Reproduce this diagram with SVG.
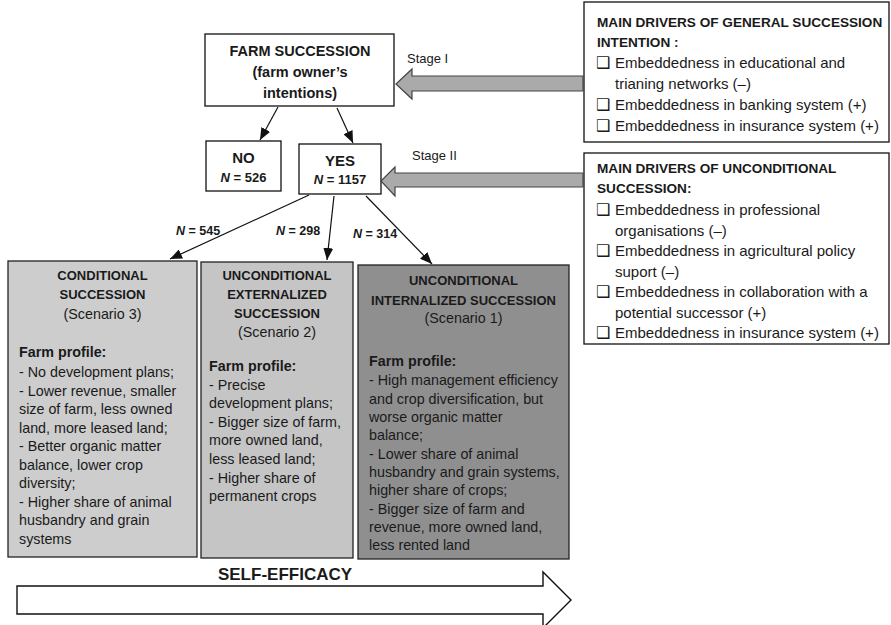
<svg xmlns="http://www.w3.org/2000/svg" width="891" height="625" viewBox="0 0 891 625">
<defs>
<marker id="ah" markerUnits="userSpaceOnUse" markerWidth="12" markerHeight="10" viewBox="0 0 12 10" refX="12" refY="5" orient="auto">
<path d="M0,0 L12,5 L0,10 Z" fill="#111"/>
</marker>
<style>
text{font-family:"Liberation Sans",Arial,sans-serif;fill:#1a1a1a}
.box{fill:#fff;stroke:#111;stroke-width:1.3}
.b{font-weight:bold}
.h14{font-size:14.5px;font-weight:bold}
.hd{font-size:13.6px;font-weight:bold}
.bd{font-size:15px}
.sb{font-size:13px;font-weight:bold}
.sr{font-size:14.3px}
.c{text-anchor:middle}
.chk{font-family:"DejaVu Sans",sans-serif;font-size:16px}
.stage{fill:#aaaaaa;stroke:#444;stroke-width:1.2}
.con{stroke:#111;stroke-width:1.2;fill:none;marker-end:url(#ah)}
.nl{font-size:12.5px;font-weight:bold}
</style>
</defs>

<g id="farm-succession">
<rect class="box" x="205" y="34" width="189" height="72"/>
<text class="h14 c" x="300" y="56">FARM SUCCESSION</text>
<text class="h14 c" x="300" y="77">(farm owner’s</text>
<text class="h14 c" x="300" y="98">intentions)</text>
</g>

<g id="no">
<rect class="box" x="206" y="141" width="75" height="50"/>
<text class="c b" x="243.5" y="163" font-size="15">NO</text>
<text class="c b" x="243.5" y="182" font-size="13"><tspan font-style="italic">N</tspan> = 526</text>
</g>

<g id="yes">
<rect class="box" x="299" y="144" width="82" height="50"/>
<text class="c b" x="340" y="166" font-size="15">YES</text>
<text class="c b" x="340" y="184" font-size="13"><tspan font-style="italic">N</tspan> = 1157</text>
</g>

<g id="drivers-general">
<rect class="box" x="584" y="2" width="305" height="140"/>
<text class="hd" x="597" y="27">MAIN DRIVERS OF GENERAL SUCCESSION</text>
<text class="hd" x="597" y="47">INTENTION :</text>
<text class="chk" x="596" y="68">❑</text>
<text class="bd" x="615" y="68">Embeddedness in educational and</text>
<text class="bd" x="615" y="89">trianing networks (–)</text>
<text class="chk" x="596" y="110">❑</text>
<text class="bd" x="615" y="110">Embeddedness in banking system (+)</text>
<text class="chk" x="596" y="131">❑</text>
<text class="bd" x="615" y="131">Embeddedness in insurance system (+)</text>
</g>

<g id="drivers-unconditional">
<rect class="box" x="584" y="153" width="305" height="191"/>
<text class="hd" x="597" y="173">MAIN DRIVERS OF UNCONDITIONAL</text>
<text class="hd" x="597" y="193">SUCCESSION:</text>
<text class="chk" x="596" y="215">❑</text>
<text class="bd" x="615" y="215">Embeddedness in professional</text>
<text class="bd" x="615" y="236">organisations (–)</text>
<text class="chk" x="596" y="256">❑</text>
<text class="bd" x="615" y="256">Embeddedness in agricultural policy</text>
<text class="bd" x="615" y="277">suport (–)</text>
<text class="chk" x="596" y="297">❑</text>
<text class="bd" x="615" y="297">Embeddedness in collaboration with a</text>
<text class="bd" x="615" y="318">potential successor (+)</text>
<text class="chk" x="596" y="338">❑</text>
<text class="bd" x="615" y="338">Embeddedness in insurance system (+)</text>
</g>

<g id="stage-arrows">
<polygon class="stage" points="583,76 412,76 412,69 396,84 412,99 412,91 583,91"/>
<text x="407" y="63" font-size="13">Stage I</text>
<polygon class="stage" points="583,173 395,173 395,167 381,181 395,196 395,187 583,187"/>
<text x="412" y="160" font-size="13">Stage II</text>
</g>

<g id="scenario-3">
<rect x="8" y="261" width="189" height="296" fill="#cdcdcd" stroke="#222" stroke-width="1.3"/>
<text class="sb c" x="102.5" y="280">CONDITIONAL</text>
<text class="sb c" x="102.5" y="299">SUCCESSION</text>
<text class="sr c" x="102.5" y="319">(Scenario 3)</text>
<text class="sr b" x="19" y="357">Farm profile:</text>
<text class="sr" x="19" y="377">- No development plans;</text>
<text class="sr" x="19" y="396">- Lower revenue, smaller</text>
<text class="sr" x="19" y="414">size of farm, less owned</text>
<text class="sr" x="19" y="433">land, more leased land;</text>
<text class="sr" x="19" y="451">- Better organic matter</text>
<text class="sr" x="19" y="470">balance, lower crop</text>
<text class="sr" x="19" y="488">diversity;</text>
<text class="sr" x="19" y="507">- Higher share of animal</text>
<text class="sr" x="19" y="525">husbandry and grain</text>
<text class="sr" x="19" y="544">systems</text>
</g>

<g id="scenario-2">
<rect x="201" y="262" width="152" height="296" fill="#c5c5c5" stroke="#222" stroke-width="1.3"/>
<text class="sb c" x="277" y="280">UNCONDITIONAL</text>
<text class="sb c" x="277" y="299">EXTERNALIZED</text>
<text class="sb c" x="277" y="318">SUCCESSION</text>
<text class="sr c" x="277" y="337">(Scenario 2)</text>
<text class="sr b" x="209" y="371">Farm profile:</text>
<text class="sr" x="209" y="390">- Precise</text>
<text class="sr" x="209" y="408">development plans;</text>
<text class="sr" x="209" y="427">- Bigger size of farm,</text>
<text class="sr" x="209" y="445">more owned land,</text>
<text class="sr" x="209" y="464">less leased land;</text>
<text class="sr" x="209" y="483">- Higher share of</text>
<text class="sr" x="209" y="501">permanent crops</text>
</g>

<g id="scenario-1">
<rect x="358" y="265" width="211" height="294" fill="#8f8f8f" stroke="#222" stroke-width="1.3"/>
<text class="sb c" x="463.5" y="285">UNCONDITIONAL</text>
<text class="sb c" x="463.5" y="305">INTERNALIZED SUCCESSION</text>
<text class="sr c" x="463.5" y="323">(Scenario 1)</text>
<text class="sr b" x="369" y="366">Farm profile:</text>
<text class="sr" x="369" y="385">- High management efficiency</text>
<text class="sr" x="369" y="404">and crop diversification, but</text>
<text class="sr" x="369" y="422">worse organic matter</text>
<text class="sr" x="369" y="440">balance;</text>
<text class="sr" x="369" y="459">- Lower share of animal</text>
<text class="sr" x="369" y="477">husbandry and grain systems,</text>
<text class="sr" x="369" y="495">higher share of crops;</text>
<text class="sr" x="369" y="514">- Bigger size of farm and</text>
<text class="sr" x="369" y="532">revenue, more owned land,</text>
<text class="sr" x="369" y="550">less rented land</text>
</g>

<g id="connectors">
<line class="con" x1="278" y1="107" x2="260" y2="140"/>
<line class="con" x1="337" y1="108" x2="353" y2="143"/>
<line class="con" x1="309" y1="195" x2="170" y2="259"/>
<line class="con" x1="334" y1="196" x2="327" y2="260"/>
<line class="con" x1="366" y1="196" x2="432" y2="264"/>
<text class="nl" x="176" y="235"><tspan font-style="italic">N</tspan> = 545</text>
<text class="nl" x="276" y="235"><tspan font-style="italic">N</tspan> = 298</text>
<text class="nl" x="353" y="238"><tspan font-style="italic">N</tspan> = 314</text>
</g>

<g id="self-efficacy">
<polygon points="17,586 543,586 543,572 571,600 543,628 543,614 17,614" fill="#fff" stroke="#111" stroke-width="1.4"/>
<text class="c b" x="285" y="580" font-size="17">SELF-EFFICACY</text>
</g>
</svg>
